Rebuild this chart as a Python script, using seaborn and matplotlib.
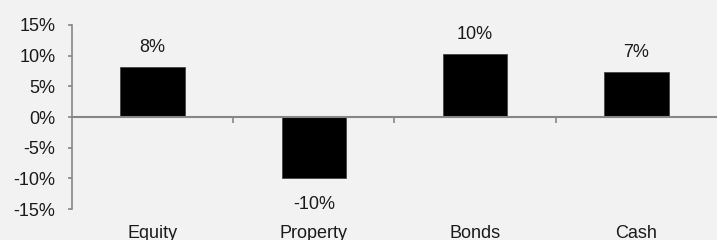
import matplotlib
matplotlib.use("Agg")
import matplotlib.pyplot as plt
import matplotlib.ticker as mticker
import seaborn as sns

# Returns by asset class (%)
assets = ["Equity", "Property", "Bonds", "Cash"]
returns = [8.1, -9.9, 10.2, 7.3]
y_ticks = [-15, -10, -5, 0, 5, 10, 15]

sns.set_style("white")
plt.rcParams["font.family"] = ["Liberation Sans", "DejaVu Sans"]
fs = 13

bg = "#f2f2f2"
axis_grey = "#868686"

fig = plt.figure(figsize=(7.17, 2.4), dpi=100, facecolor=bg)
ax = fig.add_axes([0.1004, 0.129, 0.8996, 0.767], facecolor=bg)

sns.barplot(x=assets, y=returns, color="black", width=0.4, saturation=1,
            edgecolor="#444444", linewidth=0.6, ax=ax)

# labels on bars (negative ones sit a bit further away)
bars = ax.containers[0]
ax.bar_label(bars, labels=[f"{v:.0f}%" if v >= 0 else "" for v in returns],
             padding=8, fontsize=fs, color="#1a1a1a")
ax.bar_label(bars, labels=[f"{v:.0f}%" if v < 0 else "" for v in returns],
             padding=13, fontsize=fs, color="#1a1a1a")

ax.set_xlim(-0.5, 3.5)
ax.set_ylim(-15, 15)
ax.set_yticks(y_ticks)
ax.yaxis.set_major_formatter(mticker.FuncFormatter(lambda v, _: f"{v:.0f}%"))

# axes styling
for side in ["top", "right"]:
    ax.spines[side].set_visible(False)
ax.spines["left"].set_color(axis_grey)
ax.spines["left"].set_linewidth(1.2)
ax.spines["bottom"].set_position(("data", 0))
ax.spines["bottom"].set_color(axis_grey)
ax.spines["bottom"].set_linewidth(1.5)

ax.tick_params(axis="y", left=True, direction="out", length=3, width=1.2,
               color=axis_grey, labelcolor="#1a1a1a", labelsize=fs, pad=9)
# category labels sit at the bottom of the plot
ax.tick_params(axis="x", which="major", bottom=True, length=0, pad=78,
               labelcolor="#1a1a1a", labelsize=fs)
ax.set_xticks([0.5, 1.5, 2.5], minor=True)
ax.tick_params(axis="x", which="minor", bottom=True, direction="out", length=4,
               width=1.2, color=axis_grey)
ax.set_xlabel("")
ax.set_ylabel("")

fig.savefig("out.png", dpi=100, facecolor=bg)
